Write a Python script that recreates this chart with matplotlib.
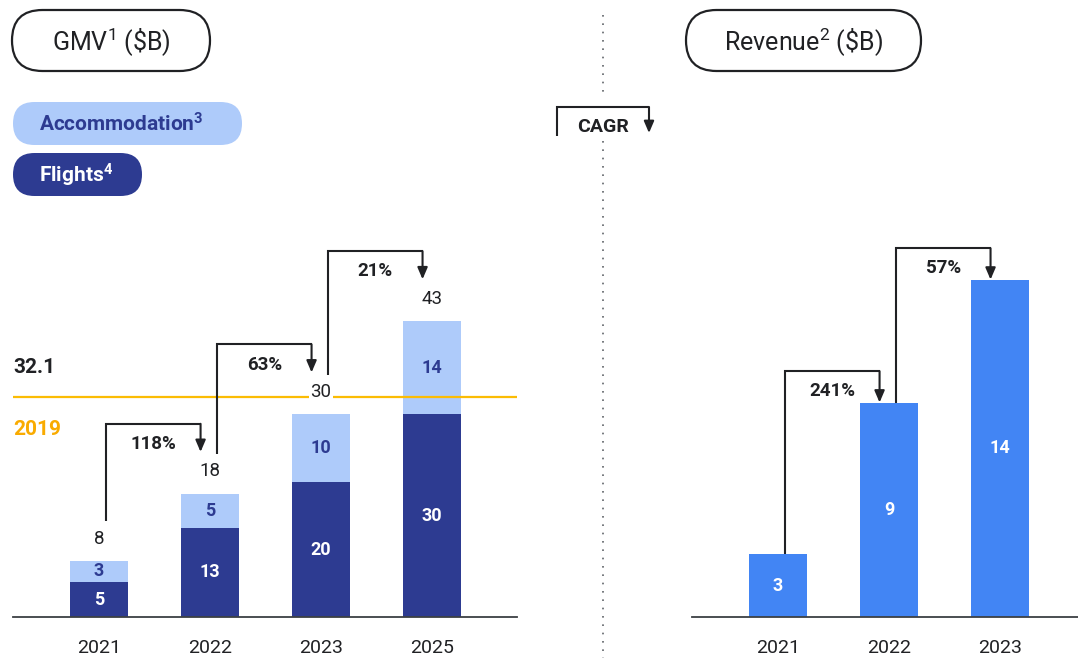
import matplotlib
matplotlib.use("Agg")
import numpy as np
import matplotlib.pyplot as plt
from matplotlib.patches import FancyBboxPatch

# GMV ($B), stacked
gmv_years = ["2021", "2022", "2023", "2025"]
flights = [5.1, 13.0, 19.7, 29.6]
accommodation = [3.1, 5.0, 9.9, 13.6]
gmv_cagr = ["118%", "63%", "21%"]
gmv_2019 = 32.1

# Revenue ($B)
rev_years = ["2021", "2022", "2023"]
revenue = [2.6, 8.9, 14.0]
rev_cagr = ["241%", "57%"]

DARK = "#2d3b91"
LIGHT = "#aecbfa"
BLUE = "#4285f4"
GOLD = "#fbbc04"
GOLD_TXT = "#f9ab00"
TXT = "#202124"
GREY = "#5f6368"

plt.rcParams["font.family"] = ["Roboto", "DejaVu Sans"]
plt.rcParams["mathtext.fontset"] = "custom"
plt.rcParams["mathtext.rm"] = "Roboto"
plt.rcParams["mathtext.bf"] = "Roboto:bold"
plt.rcParams["mathtext.default"] = "regular"

W, H = 1078, 658
fig = plt.figure(figsize=(W / 100, H / 100), dpi=100)


def px_axes(x0, x1, ybot, ytop):
    return fig.add_axes([x0 / W, 1 - ybot / H, (x1 - x0) / W, (ybot - ytop) / H])


ax1 = px_axes(13, 517, 617, 0)
ax2 = px_axes(692, 1078, 617, 0)

ax1.set_xlim(-0.775, 3.766)
ax1.set_ylim(0, 617 / 6.85)
ax2.set_xlim(-0.775, 2.703)
ax2.set_ylim(0, 617 / 24.1)

for ax, labels in ((ax1, gmv_years), (ax2, rev_years)):
    for s in ["top", "right", "left"]:
        ax.spines[s].set_visible(False)
    ax.spines["bottom"].set_color("#3c4043")
    ax.spines["bottom"].set_linewidth(1.3)
    ax.set_yticks([])
    ax.set_xticks(range(len(labels)), labels)
    ax.tick_params(axis="x", length=0, pad=15.5, labelsize=14, labelcolor=TXT)
    ax.patch.set_visible(False)

# left: stacked bars
x1 = np.arange(len(gmv_years))
b_fl = ax1.bar(x1, flights, width=0.52, color=DARK)
b_ac = ax1.bar(x1, accommodation, bottom=flights, width=0.52, color=LIGHT)
ax1.bar_label(b_fl, fmt="{:.0f}", label_type="center", color="white",
              fontsize=13, fontweight="bold")
ax1.bar_label(b_ac, fmt="{:.0f}", label_type="center", color=DARK,
              fontsize=13, fontweight="bold")
totals = np.add(flights, accommodation)
for i, t in enumerate(totals):
    ax1.annotate(f"{t:.0f}", (i, t), xytext=(0, 16), textcoords="offset points",
                 ha="center", va="center", fontsize=13.5, color=TXT, zorder=6,
                 bbox=dict(fc="white", ec="none", pad=1))

ax1.axhline(gmv_2019, color=GOLD, lw=1.6, zorder=4)
ax1.annotate(f"{gmv_2019}", (0, gmv_2019), xycoords=("axes fraction", "data"),
             xytext=(0, 21.5), textcoords="offset points", ha="left", va="center",
             fontsize=15, fontweight="bold", color=TXT)
ax1.annotate("2019", (0, gmv_2019), xycoords=("axes fraction", "data"),
             xytext=(0, -23), textcoords="offset points", ha="left", va="center",
             fontsize=15, fontweight="bold", color=GOLD_TXT)

# right: revenue bars
x2 = np.arange(len(rev_years))
b_rev = ax2.bar(x2, revenue, width=0.52, color=BLUE)
ax2.bar_label(b_rev, fmt="{:.0f}", label_type="center", color="white",
              fontsize=13, fontweight="bold")


def cagr_arrow(ax, i, y_start, y_top, y_tip, label):
    xa, xb = i + 0.063, i + 1 - 0.085
    ax.plot([xa, xa, xb], [y_start, y_top, y_top], color=TXT, lw=1.5,
            solid_joinstyle="miter", solid_capstyle="butt", zorder=5)
    ax.annotate("", xy=(xb, y_tip), xytext=(xb, y_top),
                arrowprops=dict(arrowstyle="-|>,head_length=0.7,head_width=0.3",
                                color=TXT, lw=1.5, shrinkA=0, shrinkB=0), zorder=5)
    ax.annotate(label, ((xa + xb) / 2, y_top), xytext=(0, -14.5),
                textcoords="offset points", ha="center", va="center",
                fontsize=13.5, fontweight="bold", color=TXT)


for i, lab in enumerate(gmv_cagr):
    cagr_arrow(ax1, i, totals[i] + 5.8, totals[i + 1] + 10.2, totals[i + 1] + 6.1, lab)
for i, lab in enumerate(rev_cagr):
    cagr_arrow(ax2, i, revenue[i], revenue[i + 1] + 1.3, revenue[i + 1], lab)

# overlay in pixel coords for headers, legend and separator
axo = fig.add_axes([0, 0, 1, 1])
axo.set_xlim(0, W)
axo.set_ylim(H, 0)
axo.axis("off")


def pill(x0, y0, x1, y1, fc, ec="none", lw=0):
    h = y1 - y0
    axo.add_patch(FancyBboxPatch((x0, y0), x1 - x0, h,
                                 boxstyle=f"round,pad=0,rounding_size={h / 2}",
                                 fc=fc, ec=ec, lw=lw))


pill(12, 10, 210, 71, "white", TXT, 1.6)
axo.text(111, 42, r"GMV$^1$ (\$B)", ha="center", va="center", fontsize=18, color=TXT)
pill(686, 10, 921, 71, "white", TXT, 1.6)
axo.text(803, 42, r"Revenue$^2$ (\$B)", ha="center", va="center", fontsize=18, color=TXT)

pill(13, 102, 242, 145, LIGHT)
axo.text(39, 124, r"Accommodation$^\mathbf{3}$", ha="left", va="center", fontsize=15,
         fontweight="bold", color=DARK)
pill(13, 153, 142, 196, DARK)
axo.text(39, 175, r"Flights$^\mathbf{4}$", ha="left", va="center", fontsize=15,
         fontweight="bold", color="white")

# dotted separator
axo.plot([603, 603], [15, 97], color=GREY, lw=1.2, ls=(0, (1, 4)))
axo.plot([603, 603], [141, 658], color=GREY, lw=1.2, ls=(0, (1, 4)))

# CAGR key
axo.plot([557, 557, 649], [136, 107, 107], color=TXT, lw=1.5,
         solid_joinstyle="miter", solid_capstyle="butt")
axo.annotate("", xy=(649, 133), xytext=(649, 107),
             arrowprops=dict(arrowstyle="-|>,head_length=0.7,head_width=0.3",
                             color=TXT, lw=1.5, shrinkA=0, shrinkB=0))
axo.text(603, 127, "CAGR", ha="center", va="center", fontsize=14,
         fontweight="bold", color=TXT)

fig.savefig("out.png", dpi=100)
